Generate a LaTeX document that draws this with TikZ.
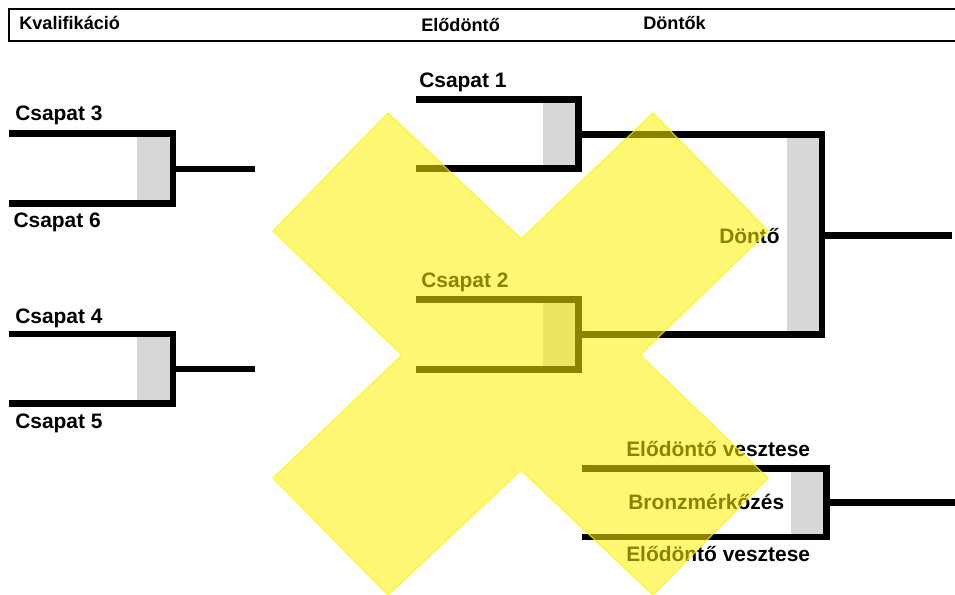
\documentclass[tikz,border=0pt]{standalone}
\usepackage{fontspec}
\setmainfont{Liberation Sans}
\definecolor{boxgray}{RGB}{215,215,215}

\begin{document}
\begin{tikzpicture}[x=0.75pt, y=-0.75pt,
  team/.style={anchor=base west, inner sep=0pt, font=\bfseries\fontsize{15.7}{18}\selectfont},
  head/.style={anchor=base west, inner sep=0pt, font=\bfseries\fontsize{13.6}{16}\selectfont},
  bracket/.style={line width=5.2pt, draw=black, line join=miter},
  shade/.style={fill=boxgray},
  cross/.style={fill=yellow, fill opacity=0.54, draw=yellow, draw opacity=0.8, line width=0.8pt}]
\useasboundingbox (0,0) rectangle (955,595);
\draw[line width=1.7pt] (9,9) rectangle (975,41);
\node[head] (H1) at (19,30) {Kvalifikáció};
\node[head] (H2) at (421,32) {Elődöntő};
\node[head] (H3) at (643,29.5) {Döntők};
\coordinate (Q1t) at (9,133.5);
\coordinate (Q1b) at (9,203.3);
\coordinate (Q1m) at (173,169);
\coordinate (Q1o) at (255,169);
\coordinate (Q2t) at (9,334);
\coordinate (Q2b) at (9,403.3);
\coordinate (Q2m) at (173,369);
\coordinate (Q2o) at (255,369);
\coordinate (S1t) at (416,99.7);
\coordinate (S1b) at (416,168.8);
\coordinate (S1m) at (578.3,134.3);
\coordinate (S2t) at (416,299.7);
\coordinate (S2b) at (416,369.2);
\coordinate (S2m) at (578.3,334.2);
\coordinate (Fm) at (822,235.7);
\coordinate (Fo) at (952,235.7);
\coordinate (Bt) at (581.7,468.7);
\coordinate (Bb) at (581.7,537);
\coordinate (Bm) at (826.3,502.7);
\coordinate (Bo) at (960,502.7);
\fill[shade] (137,133.5) rectangle (173,203.3);
\fill[shade] (137,334) rectangle (173,403.3);
\fill[shade] (542.7,99.7) rectangle (578.3,168.8);
\fill[shade] (542.7,299.7) rectangle (578.3,369.2);
\fill[shade] (786.7,134.3) rectangle (822,334.2);
\fill[shade] (790.7,468.7) rectangle (826.3,537);
\draw[bracket] (Q1t) -| (Q1m) |- (Q1b);
\draw[bracket] (Q1m) -- (Q1o);
\draw[bracket] (Q2t) -| (Q2m) |- (Q2b);
\draw[bracket] (Q2m) -- (Q2o);
\draw[bracket] (S1t) -| (S1m) |- (S1b);
\draw[bracket] (S2t) -| (S2m) |- (S2b);
\draw[bracket] (S1m) -| (Fm) |- (S2m);
\draw[bracket] (Fm) -- (Fo);
\draw[bracket] (Bt) -| (Bm) |- (Bb);
\draw[bracket] (Bm) -- (Bo);
\node[team] (T3) at (15,120.7) {Csapat 3};
\node[team] (T6) at (13.3,228) {Csapat 6};
\node[team] (T4) at (15,323.5) {Csapat 4};
\node[team] (T5) at (15,428.5) {Csapat 5};
\node[team] (T1) at (419,87.7) {Csapat 1};
\node[team] (T2) at (421,287.7) {Csapat 2};
\node[team] (F) at (719,243.3) {Döntő};
\node[team] (L1) at (626,456) {Elődöntő vesztese};
\node[team] (B) at (628,509.3) {Bronzmérkőzés};
\node[team] (L2) at (626,561.7) {Elődöntő vesztese};
\filldraw[cross] (388,113) -- (521,239) -- (653,113) -- (768,231) -- (640,355) -- (768,478) -- (653,595) -- (521,470) -- (388,595) -- (273,478) -- (402,355) -- (273,231) -- cycle;
\end{tikzpicture}
\end{document}
